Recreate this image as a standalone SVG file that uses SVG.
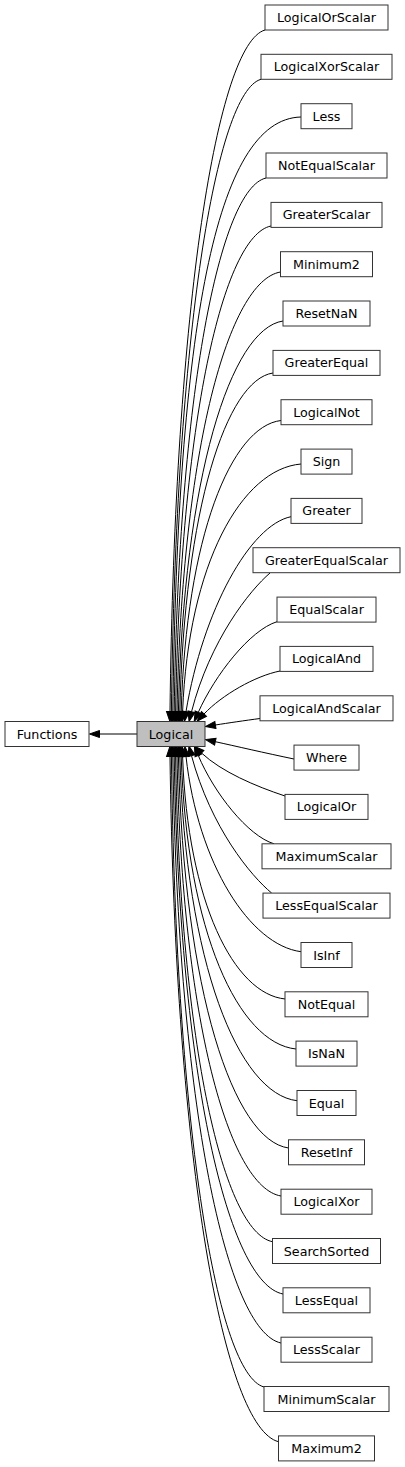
<svg xmlns="http://www.w3.org/2000/svg" width="405" height="1467" viewBox="0 0 405 1467">
<style>
.n rect{fill:#fff;stroke:#333;stroke-width:1}
.n.cur rect{fill:#bfbfbf}
.n text{font-family:"DejaVu Sans","Liberation Sans",sans-serif;font-size:12.7px;text-anchor:middle;fill:#000}
.e path{fill:none;stroke:#000;stroke-width:1;marker-end:url(#ah)}
</style>
<defs>
<marker id="ah" markerUnits="userSpaceOnUse" markerWidth="12" markerHeight="9" refX="0" refY="3.5" orient="auto" overflow="visible">
<path d="M0,0 L10,3.5 L0,7 z" fill="#000" stroke="#000" stroke-width="1"/>
</marker>
</defs>
<rect width="405" height="1467" fill="#fff"/>
<g id="edges" class="e">
<path d="M137,734 L99.5,734"/>
<path d="M265,30 C217.5,43.6 174.8,302.8 170,711.5"/>
<path d="M261,79.3 C216.2,92 175.9,332.4 171.4,711.5"/>
<path d="M301,117 C215,119 178,330 172.8,711.5"/>
<path d="M266,178 C220.1,188.7 178.8,391.6 174.2,711.5"/>
<path d="M271,226 C223.3,235.7 180.4,420.4 175.6,711.5"/>
<path d="M280.5,272 C228.8,280.8 182.2,448 177,711.5"/>
<path d="M283,321 C230.7,328.8 183.6,477.4 178.4,711.5"/>
<path d="M273,373 C226.4,379.8 184.5,508.6 179.8,711.5"/>
<path d="M281,420.5 C231.1,426.3 186.2,537.1 181.2,711.5"/>
<path d="M301,464 C241.8,469 188.5,563.2 182.6,711.5"/>
<path d="M291,516.7 C250,525 203,610 186,711.6"/>
<path d="M270,573 C250,590 210,640 191.5,711.8"/>
<path d="M277,621.7 C250,630 215,675 198.3,712.3"/>
<path d="M280,671 C255,676 222,695 204,714"/>
<path d="M260,718.5 C245,720.5 228,723 215.4,725"/>
<path d="M294,759 C265,753 235,746 215.3,741.7"/>
<path d="M285,796 C255,786 222,772 201.5,753"/>
<path d="M274,843.8 C248,836 214,793 198.3,755.5"/>
<path d="M271.7,893.1 C251,876 211,828 191.5,755.7"/>
<path d="M301,951.7 C250,945 198,864 186,756.5"/>
<path d="M285.3,999 C234,994.2 187.7,902 182.6,756.5"/>
<path d="M296,1049 C238.6,1043.2 186.9,932 181.2,756.5"/>
<path d="M297,1100.7 C238.4,1093.8 185.7,963 179.8,756.5"/>
<path d="M288.5,1148 C233.5,1140.2 183.9,991.4 178.4,756.5"/>
<path d="M281,1196 C229,1187.2 182.2,1020.2 177,756.5"/>
<path d="M272.5,1241.7 C224,1232 180.4,1047.6 175.6,756.5"/>
<path d="M283,1294 C228.6,1283.3 179.6,1079 174.2,756.5"/>
<path d="M281,1343 C226.9,1331.3 178.2,1108.4 172.8,756.5"/>
<path d="M264,1387 C217.7,1374.4 176,1134.8 171.4,756.5"/>
<path d="M278.5,1441.7 C224.3,1428 175.4,1167.6 170,756.5"/>
</g>
<g id="Functions" class="n"><rect x="5" y="721.5" width="84" height="25"/><text x="47" y="738.5">Functions</text></g>
<g id="Logical" class="n cur"><rect x="137" y="721.5" width="68" height="25"/><text x="171" y="738.5">Logical</text></g>
<g id="LogicalOrScalar" class="n"><rect x="265" y="5" width="123" height="25"/><text x="326.5" y="22">LogicalOrScalar</text></g>
<g id="LogicalXorScalar" class="n"><rect x="261" y="54.3" width="131" height="25"/><text x="326.5" y="71.3">LogicalXorScalar</text></g>
<g id="Less" class="n"><rect x="301" y="103.7" width="51" height="25"/><text x="326.5" y="120.7">Less</text></g>
<g id="NotEqualScalar" class="n"><rect x="266" y="153" width="121" height="25"/><text x="326.5" y="170">NotEqualScalar</text></g>
<g id="GreaterScalar" class="n"><rect x="271" y="202.4" width="111" height="25"/><text x="326.5" y="219.4">GreaterScalar</text></g>
<g id="Minimum2" class="n"><rect x="280.5" y="251.7" width="92" height="25"/><text x="326.5" y="268.7">Minimum2</text></g>
<g id="ResetNaN" class="n"><rect x="283" y="301" width="87" height="25"/><text x="326.5" y="318">ResetNaN</text></g>
<g id="GreaterEqual" class="n"><rect x="273" y="350.4" width="107" height="25"/><text x="326.5" y="367.4">GreaterEqual</text></g>
<g id="LogicalNot" class="n"><rect x="281" y="399.7" width="91" height="25"/><text x="326.5" y="416.7">LogicalNot</text></g>
<g id="Sign" class="n"><rect x="301" y="449.1" width="51" height="25"/><text x="326.5" y="466.1">Sign</text></g>
<g id="Greater" class="n"><rect x="291" y="498.4" width="71" height="25"/><text x="326.5" y="515.4">Greater</text></g>
<g id="GreaterEqualScalar" class="n"><rect x="253" y="547.7" width="147" height="25"/><text x="326.5" y="564.7">GreaterEqualScalar</text></g>
<g id="EqualScalar" class="n"><rect x="277" y="597.1" width="99" height="25"/><text x="326.5" y="614.1">EqualScalar</text></g>
<g id="LogicalAnd" class="n"><rect x="280" y="646.4" width="93" height="25"/><text x="326.5" y="663.4">LogicalAnd</text></g>
<g id="LogicalAndScalar" class="n"><rect x="260" y="695.8" width="133" height="25"/><text x="326.5" y="712.8">LogicalAndScalar</text></g>
<g id="Where" class="n"><rect x="294" y="745.1" width="65" height="25"/><text x="326.5" y="762.1">Where</text></g>
<g id="LogicalOr" class="n"><rect x="285" y="794.4" width="83" height="25"/><text x="326.5" y="811.4">LogicalOr</text></g>
<g id="MaximumScalar" class="n"><rect x="262" y="843.8" width="129" height="25"/><text x="326.5" y="860.8">MaximumScalar</text></g>
<g id="LessEqualScalar" class="n"><rect x="263" y="893.1" width="127" height="25"/><text x="326.5" y="910.1">LessEqualScalar</text></g>
<g id="IsInf" class="n"><rect x="301" y="942.5" width="51" height="25"/><text x="326.5" y="959.5">IsInf</text></g>
<g id="NotEqual" class="n"><rect x="285" y="991.8" width="83" height="25"/><text x="326.5" y="1008.8">NotEqual</text></g>
<g id="IsNaN" class="n"><rect x="296" y="1041.1" width="61" height="25"/><text x="326.5" y="1058.1">IsNaN</text></g>
<g id="Equal" class="n"><rect x="297" y="1090.5" width="59" height="25"/><text x="326.5" y="1107.5">Equal</text></g>
<g id="ResetInf" class="n"><rect x="288.5" y="1139.8" width="76" height="25"/><text x="326.5" y="1156.8">ResetInf</text></g>
<g id="LogicalXor" class="n"><rect x="281" y="1189.2" width="91" height="25"/><text x="326.5" y="1206.2">LogicalXor</text></g>
<g id="SearchSorted" class="n"><rect x="272.5" y="1238.5" width="108" height="25"/><text x="326.5" y="1255.5">SearchSorted</text></g>
<g id="LessEqual" class="n"><rect x="283" y="1287.8" width="87" height="25"/><text x="326.5" y="1304.8">LessEqual</text></g>
<g id="LessScalar" class="n"><rect x="281" y="1337.2" width="91" height="25"/><text x="326.5" y="1354.2">LessScalar</text></g>
<g id="MinimumScalar" class="n"><rect x="264" y="1386.5" width="125" height="25"/><text x="326.5" y="1403.5">MinimumScalar</text></g>
<g id="Maximum2" class="n"><rect x="278.5" y="1435.9" width="96" height="25"/><text x="326.5" y="1452.9">Maximum2</text></g>
</svg>
